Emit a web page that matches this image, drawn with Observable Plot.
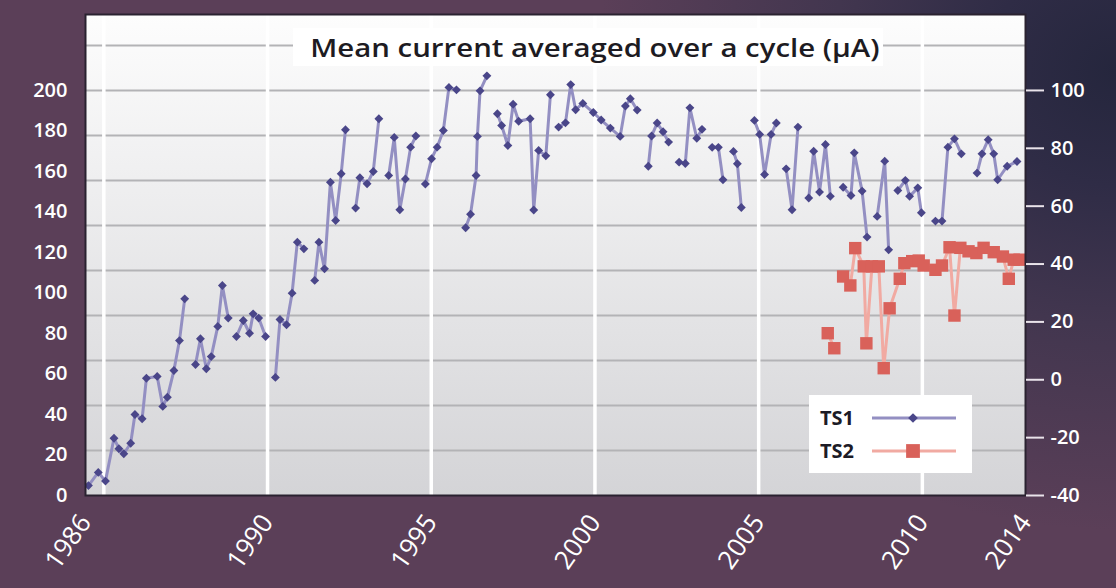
<!DOCTYPE html>
<html>
<head>
<meta charset="utf-8">
<script src="https://cdn.jsdelivr.net/npm/d3@7"></script>
<script src="https://cdn.jsdelivr.net/npm/@observablehq/plot@0.6"></script>
<style>
  html, body { margin: 0; padding: 0; }
  body {
    width: 1116px; height: 588px; overflow: hidden; position: relative;
    font-family: "Open Sans", sans-serif;
    background:
      radial-gradient(ellipse 520px 460px at 100% 12%, #25263d 0%, #2f2c46 25%, #42364f 55%, rgba(91,63,88,0) 100%),
      #5b3f58;
  }
  #chart { position: absolute; left: 0; top: 0; }
  #title {
    position: absolute; left: 293px; top: 28px; width: 590px; height: 38px;
    background: #ffffff; text-align: center; line-height: 38px;
    font-size: 26px; font-weight: 600; color: #1d1b22; white-space: nowrap;
  }
  #title span { display: inline-block; transform: scaleX(1.13); transform-origin: center; margin-left: 14px; }
  #legend {
    position: absolute; left: 809px; top: 395px; width: 163px; height: 78px;
    background: #ffffff;
  }
  #legend .row { position: absolute; left: 11px; height: 30px; line-height: 30px;
    font-size: 20px; font-weight: 700; color: #1c1b26; }
  #legend svg { position: absolute; left: 0; top: 0; }
</style>
</head>
<body>
<div id="chart"></div>
<div id="title"><span>Mean current averaged over a cycle (µA)</span></div>
<div id="legend"></div>
<script>
// ---- data ----
// TS1: left axis (0–200); null marks a break in the line
const ts1Year = [1984.53,1984.83,1985.05,1985.31,1985.46,1985.61,1985.82,1985.95,1986.17,1986.30,1986.63,1986.80,1986.94,1987.14,1987.31,1987.47,null,
  1987.80,1987.95,1988.13,1988.28,1988.48,1988.62,1988.80,null,
  1989.05,1989.26,1989.45,1989.56,1989.73,1989.94,null,
  1990.24,1990.38,1990.58,1990.75,1990.91,1991.11,null,
  1991.44,1991.57,1991.74,1991.92,1992.08,1992.25,1992.38,null,
  1992.69,1992.82,1993.04,1993.23,1993.40,null,
  1993.70,1993.87,1994.04,1994.21,1994.37,1994.53,null,
  1994.82,1995.01,1995.18,1995.37,1995.54,1995.77,null,
  1996.05,1996.20,1996.37,1996.41,1996.49,1996.70,null,
  1997.02,1997.15,1997.34,1997.50,1997.67,1998.02,1998.13,1998.28,1998.50,1998.64,null,
  1998.89,1999.10,1999.26,1999.41,1999.63,1999.95,2000.19,2000.47,2000.77,2000.93,2001.08,2001.29,null,
  2001.63,2001.73,2001.90,2002.08,2002.25,null,
  2002.57,2002.76,2002.90,2003.11,2003.27,null,
  2003.58,2003.77,2003.91,null,
  2004.23,2004.35,2004.47,null,
  2004.87,2005.03,2005.18,2005.38,2005.54,null,
  2005.84,2006.02,2006.20,null,
  2006.53,2006.68,2006.86,2007.04,2007.19,null,
  2007.58,2007.82,2007.92,2008.16,2008.31,null,
  2008.62,2008.85,2008.97,null,
  2009.25,2009.48,2009.61,2009.86,2009.97,null,
  2010.40,2010.60,2010.78,2010.98,2011.19,null,
  2011.67,2011.82,2012.01,2012.18,2012.30,2012.59,2012.89];
const ts1Value = [4.9,11.4,7.1,28.3,23.1,20.6,25.8,40.0,37.9,57.9,58.8,44.0,48.5,61.7,76.5,97.1,null,
  64.7,77.4,62.6,68.6,83.5,103.7,87.6,null,
  78.5,86.4,80.1,89.7,87.6,78.5,null,
  58.3,86.9,84.3,99.9,125.1,121.8,null,
  106.2,125.1,111.9,154.7,135.8,158.9,180.6,null,
  141.9,156.9,153.9,160.0,186.0,null,
  158.0,176.8,141.1,156.3,172.0,177.5,null,
  153.8,166.3,172.0,180.2,201.5,200.3,null,
  132.2,138.9,158.0,177.3,199.8,207.2,null,
  188.5,182.7,172.8,193.2,184.8,186.0,141.0,170.4,167.7,197.9,null,
  181.9,184.0,202.9,190.5,193.6,189.1,185.4,181.4,177.3,192.3,195.9,190.3,null,
  162.6,177.5,183.9,179.6,174.5,null,
  164.6,163.9,191.4,176.4,180.8,null,
  171.9,171.9,155.9,null,
  169.9,163.8,142.2,null,
  185.2,178.3,158.5,178.3,183.9,null,
  161.3,141.1,181.9,null,
  146.9,170.0,149.8,173.3,147.7,null,
  152.2,148.1,169.2,150.3,127.6,null,
  137.8,165.1,121.3,null,
  150.6,155.6,147.7,151.9,139.6,null,
  135.5,135.5,172.0,176.1,168.7,null,
  159.2,168.7,175.7,168.7,155.9,162.6,164.9];

// TS2: right axis (−40–100)
const ts2Year = [2007.11,2007.31,null,2007.58,2007.80,2007.95,2008.21,2008.29,2008.46,2008.67,2008.82,2009.00,
  2009.31,2009.45,2009.69,2009.89,2010.04,2010.40,2010.60,2010.83,2010.98,2011.16,2011.41,2011.65,2011.87,
  2012.18,2012.46,2012.64,2012.79,2012.97];
const ts2Value = [16.1,10.9,null,35.7,32.6,45.5,39.2,12.6,39.2,39.2,4.0,24.7,
  34.9,40.3,41.0,41.2,39.5,38.0,39.5,45.8,22.2,45.6,44.4,43.8,45.6,
  44.1,42.6,34.9,41.5,41.5];

// axes
const leftTicks = [0,20,40,60,80,100,120,140,160,180,200];
const rightTicks = [-40,-20,0,20,40,60,80,100];
const xStart = 1984.44, xEnd = 2013.15;          // ends of the horizontal axis
const xTickValues = [xStart,1990,1995,2000,2005,2010,xEnd];
const xTickLabels = ["1986","1990","1995","2000","2005","2010","2014"];
const xGrid = [1985,1990,1995,2000,2005,2010];
const yTop = 237.5;
const gridCount = 10;                              // horizontal grid: 200/9 steps

// right axis (−40..100) shares the frame with left axis (0..200)
const rightToLeft = r => (r + 40) / 0.7;
const leftToRight = l => l * 0.7 - 40;

const ts1 = ts1Year.map((year, i) => ({year, value: ts1Value[i]}));
const ts2 = ts2Year.map((year, i) => ({year, value: ts2Value[i] == null ? null : rightToLeft(ts2Value[i])}));
const yGrid = d3.range(1, gridCount + 1).map(i => i * 200 / 9);
const xLabelOf = new Map(xTickValues.map((v, i) => [v, xTickLabels[i]]));

const plot = Plot.plot({
  width: 1116, height: 588,
  marginLeft: 85, marginRight: 91, marginTop: 14, marginBottom: 93,
  x: {domain: [xStart, xEnd], axis: null},
  y: {domain: [0, yTop], axis: null},
  style: {background: "transparent", color: "white", fontFamily: "'Open Sans', sans-serif", overflow: "visible"},
  marks: [
    Plot.frame({fill: "url(#plotBg)", stroke: "none"}),
    Plot.gridY({ticks: yGrid, stroke: "#b3b3b6", strokeOpacity: 1, strokeWidth: 2}),
    Plot.gridX({ticks: xGrid, stroke: "#ffffff", strokeOpacity: 1, strokeWidth: 3.5}),
    Plot.line(ts1, {x: "year", y: "value", stroke: "#938fc2", strokeWidth: 3}),
    Plot.dot(ts1, {x: "year", y: "value", symbol: "diamond2", r: 4, fill: "#4a4689", stroke: "none"}),
    Plot.line(ts2, {x: "year", y: "value", stroke: "#f1aaa2", strokeWidth: 3}),
    Plot.dot(ts2, {x: "year", y: "value", symbol: "square", r: 7, fill: "#d9615a", stroke: "none"}),
    Plot.frame({stroke: "#2a2230", strokeWidth: 2}),
    Plot.axisY({anchor: "left", label: null, ticks: leftTicks, tickSize: 0, tickPadding: 18, fontSize: 20, fontWeight: 600, fill: "white"}),
    Plot.axisY({anchor: "right", label: null, ticks: rightTicks.map(rightToLeft), tickFormat: d => String(Math.round(leftToRight(d))),
      tickSize: 18, tickPadding: 7, fontSize: 20, fontWeight: 600, fill: "white", stroke: "#e9e3ea", strokeWidth: 2}),
    Plot.axisX({label: null, ticks: xTickValues, tickFormat: d => xLabelOf.get(d), tickRotate: -55, tickSize: 0, tickPadding: 22,
      fontSize: 26, fontWeight: 500, fill: "white"})
  ]
});

// gradient fill for the plot area
const defs = d3.select(plot).insert("defs", ":first-child");
const grad = defs.append("linearGradient").attr("id", "plotBg").attr("x1", 0).attr("y1", 0).attr("x2", 0).attr("y2", 1);
grad.append("stop").attr("offset", "0%").attr("stop-color", "#fdfdfd");
grad.append("stop").attr("offset", "100%").attr("stop-color", "#d4d4d7");

document.getElementById("chart").appendChild(plot);

// legend
const legendSeries = [
  {name: "TS1", line: "#938fc2", fill: "#4a4689", symbol: d3.symbolDiamond2, size: 60},
  {name: "TS2", line: "#f1aaa2", fill: "#d9615a", symbol: d3.symbolSquare, size: 190}
];
const legend = d3.select("#legend");
const lsvg = legend.append("svg").attr("width", 163).attr("height", 78);
legendSeries.forEach((s, i) => {
  const cy = 23 + i * 33;
  legend.append("div").attr("class", "row").style("top", (cy - 15) + "px").text(s.name);
  lsvg.append("line").attr("x1", 63).attr("x2", 147).attr("y1", cy).attr("y2", cy)
    .attr("stroke", s.line).attr("stroke-width", 3);
  lsvg.append("path").attr("d", d3.symbol(s.symbol, s.size)()).attr("transform", `translate(104,${cy})`)
    .attr("fill", s.fill);
});
</script>
</body>
</html>
